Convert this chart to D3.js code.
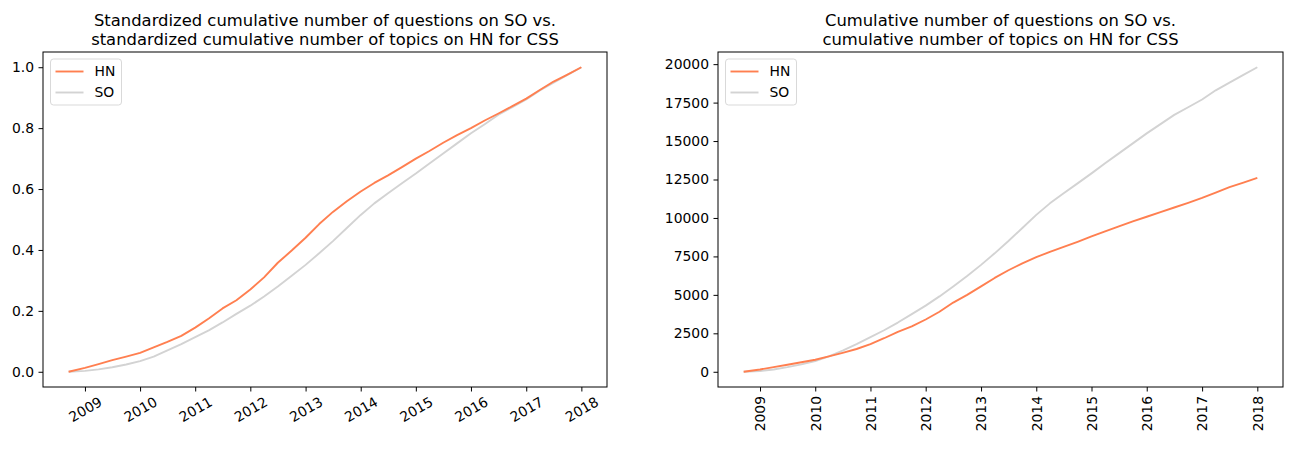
<!DOCTYPE html>
<html>
<head>
<meta charset="utf-8">
<script src="https://cdn.jsdelivr.net/npm/d3@7"></script>
<style>
  body { margin: 0; background: #fff; }
  svg { font-family: "DejaVu Sans", sans-serif; display: block; }
</style>
</head>
<body>
<script>
// quarterly sample dates
const dates = [
  "2008-09-15",
  "2009-01-01", "2009-04-01", "2009-07-01", "2009-10-01",
  "2010-01-01", "2010-04-01", "2010-07-01", "2010-10-01",
  "2011-01-01", "2011-04-01", "2011-07-01", "2011-10-01",
  "2012-01-01", "2012-04-01", "2012-07-01", "2012-10-01",
  "2013-01-01", "2013-04-01", "2013-07-01", "2013-10-01",
  "2014-01-01", "2014-04-01", "2014-07-01", "2014-10-01",
  "2015-01-01", "2015-04-01", "2015-07-01", "2015-10-01",
  "2016-01-01", "2016-04-01", "2016-07-01", "2016-10-01",
  "2017-01-01", "2017-04-01", "2017-07-01", "2017-10-01",
  "2018-01-01"
];

// left panel: standardized cumulative counts
const hnStd = [0, 0.013, 0.025, 0.038, 0.05, 0.062, 0.08, 0.098, 0.118, 0.145, 0.175, 0.208, 0.235,
  0.27, 0.31, 0.358, 0.398, 0.44, 0.485, 0.525, 0.56, 0.592, 0.62, 0.645, 0.672, 0.70, 0.725, 0.752,
  0.777, 0.80, 0.825, 0.848, 0.872, 0.897, 0.925, 0.953, 0.976, 1.0];
const soStd = [0, 0.003, 0.008, 0.015, 0.024, 0.035, 0.05, 0.07, 0.091, 0.114, 0.136, 0.162, 0.19,
  0.217, 0.247, 0.28, 0.315, 0.351, 0.389, 0.429, 0.472, 0.515, 0.553, 0.586, 0.619, 0.651, 0.684,
  0.717, 0.75, 0.783, 0.813, 0.844, 0.869, 0.894, 0.924, 0.949, 0.975, 1.0];

// right panel: raw cumulative counts
const hnRaw = [0, 150, 300, 460, 620, 780, 1000, 1230, 1480, 1800, 2180, 2600, 2950, 3400, 3900, 4500,
  5000, 5550, 6100, 6600, 7050, 7450, 7800, 8120, 8450, 8800, 9130, 9450, 9780, 10080, 10380, 10680,
  10980, 11300, 11650, 12000, 12300, 12600];
const soRaw = [0, 50, 150, 300, 480, 700, 1000, 1380, 1800, 2250, 2700, 3200, 3750, 4300, 4900, 5550,
  6230, 6950, 7700, 8500, 9350, 10200, 10950, 11600, 12250, 12900, 13550, 14200, 14850, 15500, 16100,
  16700, 17200, 17700, 18300, 18800, 19300, 19800];

const leftTicks = [0, 0.2, 0.4, 0.6, 0.8, 1.0];
const rightTicks = [0, 2500, 5000, 7500, 10000, 12500, 15000, 17500, 20000];
const yearTicks = ["2009", "2010", "2011", "2012", "2013", "2014", "2015", "2016", "2017", "2018"];

const seriesNames = ["HN", "SO"];
const seriesColors = ["#ff7f50", "#d3d3d3"];

const width = 1307;
const height = 455;
const fs = 13.9;   // tick / legend font size
const parse = d3.timeParse("%Y-%m-%d");
const xDates = dates.map(parse);

const svg = d3.select("body").append("svg")
  .attr("width", width)
  .attr("height", height);

function pad(ext) {
  const m = (ext[1] - ext[0]) * 0.05;
  return [ext[0] - m, ext[1] + m];
}

function panel(opts) {
  const { left, right, top, bottom, series, yTicks, yFmt, title, rotate } = opts;
  const xExt = d3.extent(xDates);
  const x = d3.scaleTime()
    .domain(pad([+xExt[0], +xExt[1]]).map(v => new Date(v)))
    .range([left, right]);
  const yMax = d3.max(series, s => d3.max(s));
  const y = d3.scaleLinear().domain(pad([0, yMax])).range([bottom, top]);

  const g = svg.append("g");

  // lines (SO drawn first, HN on top)
  const line = d3.line().x((d, i) => x(xDates[i])).y(d => y(d));
  [1, 0].forEach(k => {
    g.append("path")
      .datum(series[k])
      .attr("fill", "none")
      .attr("stroke", seriesColors[k])
      .attr("stroke-width", 1.9)
      .attr("stroke-linejoin", "round")
      .attr("d", line);
  });

  // y axis
  const yAxis = g.append("g")
    .attr("transform", `translate(${left},0)`)
    .call(d3.axisLeft(y).tickValues(yTicks).tickFormat(yFmt).tickSize(4.5).tickPadding(4.5));
  yAxis.select(".domain").remove();
  yAxis.selectAll("text").attr("font-size", fs).attr("fill", "#000").attr("font-family", "DejaVu Sans");
  yAxis.selectAll("line").attr("stroke", "#000");

  // x axis
  const xAxis = g.append("g")
    .attr("transform", `translate(0,${bottom})`)
    .call(d3.axisBottom(x)
      .tickValues(yearTicks.map(t => d3.timeParse("%Y")(t)))
      .tickFormat(d3.timeFormat("%Y"))
      .tickSize(4.5));
  xAxis.select(".domain").remove();
  xAxis.selectAll("line").attr("stroke", "#000");
  xAxis.selectAll("text").each(function () {
    const t = d3.select(this);
    t.attr("font-size", fs).attr("fill", "#000").attr("font-family", "DejaVu Sans");
    const w = this.getComputedTextLength();
    const h = 10.5;
    const ang = rotate * Math.PI / 180;
    const bh = w * Math.sin(ang) + h * Math.cos(ang);
    const cy = 4.5 + 4.5 + bh / 2;
    t.attr("y", 0).attr("dy", "0.35em")
      .attr("transform", `translate(0,${cy}) rotate(${-rotate})`)
      .attr("text-anchor", "middle");
  });

  // frame
  g.append("rect")
    .attr("x", left).attr("y", top)
    .attr("width", right - left).attr("height", bottom - top)
    .attr("fill", "none").attr("stroke", "#000").attr("stroke-width", 1);

  // title
  const cx = (left + right) / 2;
  title.forEach((s, i) => {
    g.append("text")
      .attr("x", cx).attr("y", 26 + i * 19)
      .attr("text-anchor", "middle")
      .attr("font-size", 16.4)
      .attr("fill", "#000")
      .text(s);
  });

  // legend
  const lg = g.append("g").attr("transform", `translate(${left + 7.5},${top + 7})`);
  lg.append("rect")
    .attr("width", 71).attr("height", 46).attr("rx", 3)
    .attr("fill", "#fff").attr("fill-opacity", 0.8)
    .attr("stroke", "#d9d9d9").attr("stroke-width", 1);
  seriesNames.forEach((n, i) => {
    const ly = 12.5 + i * 21;
    lg.append("line")
      .attr("x1", 5).attr("x2", 33).attr("y1", ly).attr("y2", ly)
      .attr("stroke", seriesColors[i]).attr("stroke-width", 1.9);
    lg.append("text")
      .attr("x", 44).attr("y", ly).attr("dy", "0.35em")
      .attr("font-size", fs).attr("fill", "#000")
      .text(n);
  });
}

panel({
  left: 43, right: 607, top: 52, bottom: 387,
  series: [hnStd, soStd],
  yTicks: leftTicks,
  yFmt: d3.format(".1f"),
  title: ["Standardized cumulative number of questions on SO vs.",
          "standardized cumulative number of topics on HN for CSS"],
  rotate: 30
});

panel({
  left: 718, right: 1283, top: 52, bottom: 387,
  series: [hnRaw, soRaw],
  yTicks: rightTicks,
  yFmt: d3.format("d"),
  title: ["Cumulative number of questions on SO vs.",
          "cumulative number of topics on HN for CSS"],
  rotate: 90
});
</script>
</body>
</html>
